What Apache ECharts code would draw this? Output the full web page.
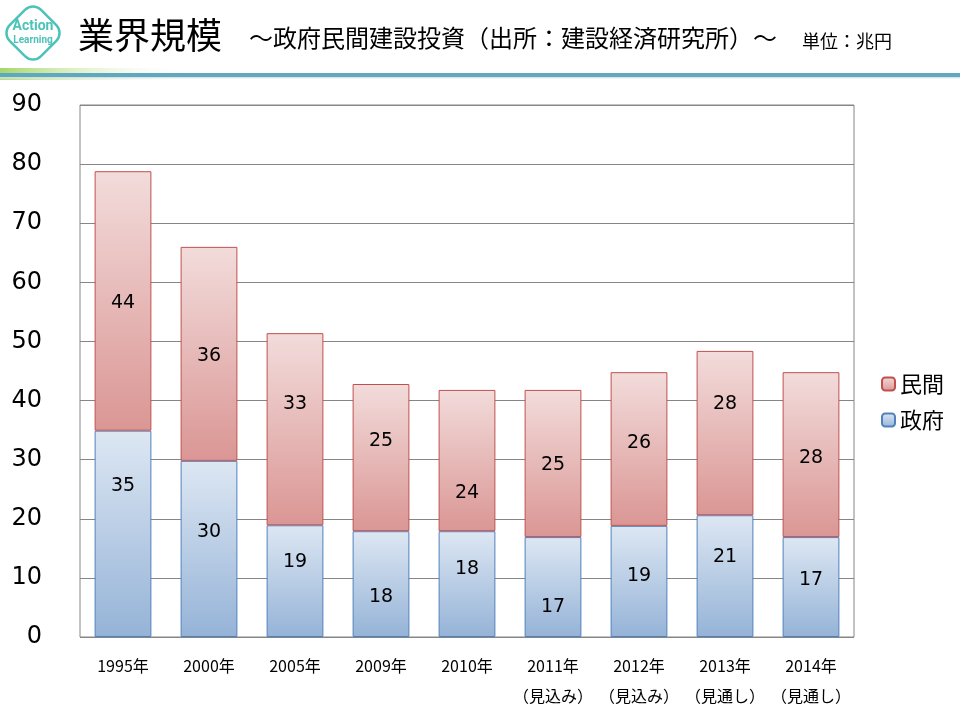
<!DOCTYPE html>
<html><head><meta charset="utf-8">
<script src="https://cdn.jsdelivr.net/npm/echarts@6/dist/echarts.min.js"></script>
<style>html,body{margin:0;padding:0;background:#fff}#c{width:960px;height:720px}</style>
</head><body><div id="c"></div>
<script>
const categories = ['1995年','2000年','2005年','2009年','2010年','2011年\n（見込み）','2012年\n（見込み）','2013年\n（見通し）','2014年\n（見通し）'];
const government = [34.9, 29.8, 18.9, 17.9, 17.9, 16.9, 18.8, 20.6, 16.9];
const privateSector = [43.9, 36.2, 32.5, 24.9, 23.9, 24.9, 26.0, 27.8, 27.9];
const yTicks = [0,10,20,30,40,50,60,70,80,90];
// label nudges (px, vertical) as placed in the original slide
const govLabelNudge = [-50, -19, -21, 11, -17, 18, -7, -21, -9];
const privLabelNudge = [0, 0, -27, -19, 31, 0, -8, -31, 1];

const FONT = '"Noto Sans CJK JP", "Noto Sans", sans-serif';
const NUM = '"DejaVu Sans", "Noto Sans CJK JP", sans-serif';
const chart = echarts.init(document.getElementById('c'));
const grad = (top, bottom) => new echarts.graphic.LinearGradient(0,0,0,1,[{offset:0,color:top},{offset:1,color:bottom}]);
const withNudge = (vals, nudge) => vals.map((v,i)=>({value:v,label:{offset:[0,nudge[i]+2]}}));
const lbl = {show:true,position:'inside',fontSize:19,color:'#000',fontFamily:NUM,formatter:p=>Math.round(p.value)};

chart.setOption({
  animation:false,
  textStyle:{fontFamily:FONT},
  grid:{left:80,right:106,top:105,bottom:83,show:true,borderColor:'#868686',borderWidth:1,containLabel:false},
  legend:{
    orient:'vertical', left:876, top:368, itemWidth:13, itemHeight:13, itemGap:14,
    data:['民間','政府'],
    textStyle:{fontSize:22,color:'#000',fontFamily:FONT}
  },
  xAxis:{
    type:'category', data:categories,
    axisLine:{show:false}, axisTick:{show:false},
    axisLabel:{fontSize:16,color:'#000',margin:14,lineHeight:30,interval:0}
  },
  yAxis:{
    type:'value', min:0, max:90, interval:10,
    axisLine:{show:false}, axisTick:{show:false},
    axisLabel:{fontSize:24,color:'#000',fontFamily:NUM,margin:38,formatter:v=>yTicks.includes(v)?String(v):''},
    splitLine:{lineStyle:{color:'#868686',width:1}}
  },
  series:[
    {name:'政府',type:'bar',stack:'t',data:withNudge(government,govLabelNudge),barWidth:'66%',
     itemStyle:{color:grad('#dde7f3','#95b3d7'),borderColor:'#4f81bd',borderWidth:1},
     label:lbl},
    {name:'民間',type:'bar',stack:'t',data:withNudge(privateSector,privLabelNudge),barWidth:'66%',
     itemStyle:{color:grad('#f2dcdb','#da9694'),borderColor:'#c0504d',borderWidth:1},
     label:lbl}
  ],
  graphic:[
    {type:'rect',shape:{x:0,y:68,width:960,height:12},style:{fill:new echarts.graphic.LinearGradient(0,0,1,0,[{offset:0,color:'#a6d66a'},{offset:0.2,color:'rgba(255,255,255,0)'},{offset:1,color:'rgba(255,255,255,0)'}])},z:1},
    {type:'rect',shape:{x:0,y:73,width:960,height:4},style:{fill:'#5ea9c0'},z:2},
    {type:'rect',shape:{x:0,y:77,width:960,height:3},style:{fill:new echarts.graphic.LinearGradient(0,0,0,1,[{offset:0,color:'#c8d8dc'},{offset:1,color:'rgba(255,255,255,0)'}])},z:2},
    {type:'rect',x:33,y:33,rotation:Math.PI/4,shape:{x:-22,y:-22,width:44,height:44,r:11},style:{fill:'#fff',stroke:'#4cc3b8',lineWidth:2.5},z:3},
    {type:'text',x:33,y:26,style:{text:'Action',fill:'#4cc3b8',font:'bold 14px "Liberation Sans Narrow", "Roboto", sans-serif',textAlign:'center',textVerticalAlign:'middle'},z:4},
    {type:'text',x:33,y:40,style:{text:'Learning',fill:'#4cc3b8',font:'bold 10px "Liberation Sans Narrow", "Roboto", sans-serif',textAlign:'center',textVerticalAlign:'middle'},z:4},
    {type:'text',x:78,y:35,style:{text:'業界規模',fill:'#000',font:'36px '+FONT,textVerticalAlign:'middle'},z:4},
    {type:'text',x:249,y:38,style:{text:'～政府民間建設投資（出所：建設経済研究所）～',fill:'#000',font:'24px '+FONT,textVerticalAlign:'middle'},z:4},
    {type:'text',x:802,y:41,style:{text:'単位：兆円',fill:'#000',font:'18px '+FONT,textVerticalAlign:'middle'},z:4}
  ]
});
</script></body></html>
